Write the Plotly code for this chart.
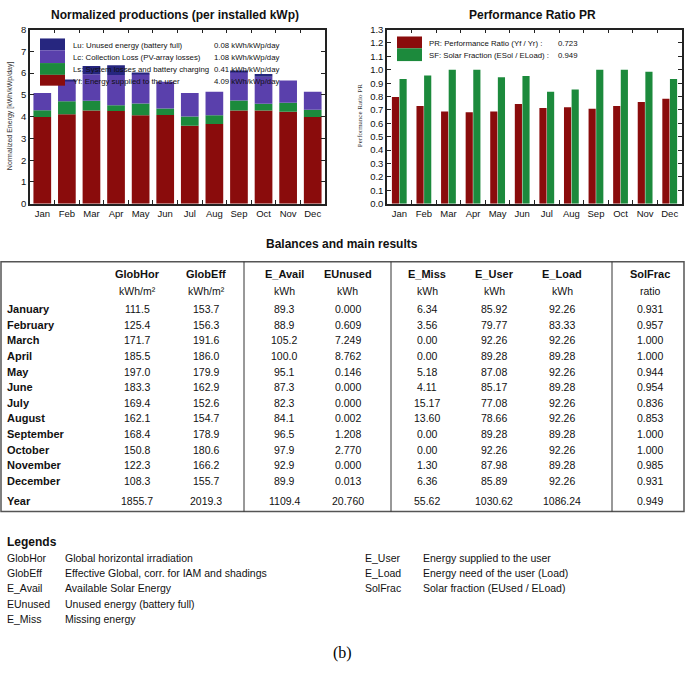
import numpy as np
import plotly.graph_objects as go

W, H = 685, 674

months = ["Jan", "Feb", "Mar", "Apr", "May", "Jun", "Jul", "Aug", "Sep", "Oct", "Nov", "Dec"]

# Normalized productions (kWh/kWp/day)
yf = [3.99, 4.11, 4.28, 4.26, 4.07, 4.08, 3.58, 3.66, 4.28, 4.28, 4.23, 3.99]
ls = [0.30, 0.60, 0.45, 0.27, 0.54, 0.29, 0.43, 0.41, 0.46, 0.31, 0.41, 0.33]
lc = [0.80, 0.94, 1.22, 1.38, 1.36, 1.23, 1.08, 1.08, 1.31, 1.24, 1.02, 0.83]
lu = [0.00, 0.03, 0.38, 0.45, 0.01, 0.00, 0.00, 0.00, 0.06, 0.13, 0.00, 0.00]

# Performance ratio / solar fraction
pr = [0.796, 0.730, 0.688, 0.683, 0.688, 0.744, 0.715, 0.720, 0.710, 0.730, 0.759, 0.783]
sf = [0.931, 0.957, 1.000, 1.000, 0.944, 0.954, 0.836, 0.853, 1.000, 1.000, 0.985, 0.931]

# Table
row_names = ["January", "February", "March", "April", "May", "June", "July", "August",
             "September", "October", "November", "December", "Year"]
col_names = ["GlobHor", "GlobEff", "E_Avail", "EUnused", "E_Miss", "E_User", "E_Load", "SolFrac"]
col_units = ["kWh/m²", "kWh/m²", "kWh", "kWh", "kWh", "kWh", "kWh", "ratio"]
glob_hor = ["111.5", "125.4", "171.7", "185.5", "197.0", "183.3", "169.4", "162.1", "168.4", "150.8", "122.3", "108.3", "1855.7"]
glob_eff = ["153.7", "156.3", "191.6", "186.0", "179.9", "162.9", "152.6", "154.7", "178.9", "180.6", "166.2", "155.7", "2019.3"]
e_avail = ["89.3", "88.9", "105.2", "100.0", "95.1", "87.3", "82.3", "84.1", "96.5", "97.9", "92.9", "89.9", "1109.4"]
e_unused = ["0.000", "0.609", "7.249", "8.762", "0.146", "0.000", "0.000", "0.002", "1.208", "2.770", "0.000", "0.013", "20.760"]
e_miss = ["6.34", "3.56", "0.00", "0.00", "5.18", "4.11", "15.17", "13.60", "0.00", "0.00", "1.30", "6.36", "55.62"]
e_user = ["85.92", "79.77", "92.26", "89.28", "87.08", "85.17", "77.08", "78.66", "89.28", "92.26", "87.98", "85.89", "1030.62"]
e_load = ["92.26", "83.33", "92.26", "89.28", "92.26", "89.28", "92.26", "92.26", "89.28", "92.26", "89.28", "92.26", "1086.24"]
sol_frac = ["0.931", "0.957", "1.000", "1.000", "0.944", "0.954", "0.836", "0.853", "1.000", "1.000", "0.985", "0.931", "0.949"]
columns = [glob_hor, glob_eff, e_avail, e_unused, e_miss, e_user, e_load, sol_frac]

legend_left = [("GlobHor", "Global horizontal irradiation"),
               ("GlobEff", "Effective Global, corr. for IAM and shadings"),
               ("E_Avail", "Available Solar Energy"),
               ("EUnused", "Unused energy (battery full)"),
               ("E_Miss", "Missing energy")]
legend_right = [("E_User", "Energy supplied to the user"),
                ("E_Load", "Energy need of the user (Load)"),
                ("SolFrac", "Solar fraction (EUsed / ELoad)")]

RED = "#8a0c0c"
GREEN = "#1c8a3c"
PURPLE = "#5a40ac"
NAVY = "#26267f"
FONT = "Liberation Sans, Arial, sans-serif"

def px(x):
    return x / W

def py(y):
    return 1 - y / H

fig = go.Figure()

# Left stacked bars
stack = [(yf, RED, "Yf"), (ls, GREEN, "Ls"), (lc, PURPLE, "Lc"), (lu, NAVY, "Lu")]
base = np.zeros(len(months))
for vals, col, name in stack:
    v = np.array(vals)
    fig.add_trace(go.Bar(x=months, y=v, base=base.copy(), marker=dict(color=col, line_width=0),
                         width=0.72, offset=-0.36, name=name, showlegend=False,
                         xaxis="x", yaxis="y"))
    base = base + v

# Right grouped bars
fig.add_trace(go.Bar(x=months, y=pr, marker=dict(color=RED, line_width=0), name="PR",
                     showlegend=False, xaxis="x2", yaxis="y2"))
fig.add_trace(go.Bar(x=months, y=sf, marker=dict(color=GREEN, line_width=0), name="SF",
                     showlegend=False, xaxis="x2", yaxis="y2"))

ydom = [py(201), py(24)]
axis_common = dict(showline=True, linecolor="#222", linewidth=1.5, mirror="ticks",
                   ticks="inside", ticklen=4, tickcolor="#222", showgrid=False,
                   tickfont=dict(family=FONT, size=9.5, color="#111"), zeroline=False)
fig.update_layout(
    width=W, height=H, margin=dict(l=0, r=0, t=0, b=0),
    paper_bgcolor="white", plot_bgcolor="white",
    barmode="group", bargap=0.38, bargroupgap=0.06,
    xaxis=dict(domain=[px(30), px(325)], anchor="y", tickson="boundaries", tickangle=0, **axis_common),
    yaxis=dict(domain=ydom, anchor="x", range=[0, 8], dtick=1, **axis_common),
    xaxis2=dict(domain=[px(387), px(682)], anchor="y2", tickson="boundaries", tickangle=0, **axis_common),
    yaxis2=dict(domain=ydom, anchor="x2", range=[0, 1.3], dtick=0.1, tickformat=".1f", **axis_common),
)

ann = []
shapes = []

def text(x, y, s, size=11, bold=False, xanchor="left", family=FONT, color="#111", angle=0):
    ann.append(dict(x=px(x), y=py(y), xref="paper", yref="paper", text=f"<b>{s}</b>" if bold else s,
                    showarrow=False, xanchor=xanchor, yanchor="middle", textangle=angle,
                    font=dict(family=family, size=size, color=color)))

# Titles
text(175, 9, "Normalized productions (per installed kWp)", size=12, bold=True, xanchor="center")
text(532, 9, "Performance Ratio PR", size=12, bold=True, xanchor="center")
text(10, 112, "Normalized Energy [kWh/kWp/day]", size=7, xanchor="center", angle=-90, color="#333")
text(360, 112, "Performance Ratio PR", size=7, xanchor="center", angle=-90,
     family="Liberation Serif, serif", color="#333")

# Left chart legend
left_leg = [(NAVY, "Lu: Unused energy (battery full)", "0.08 kWh/kWp/day"),
            (PURPLE, "Lc: Collection Loss (PV-array losses)", "1.08 kWh/kWp/day"),
            (GREEN, "Ls: System losses and battery charging", "0.41 kWh/kWp/day"),
            (RED, "Yf: Energy supplied to the user", "4.09 kWh/kWp/day")]
edges = [33, 45, 58, 70, 81]
for i, (c, lab, val) in enumerate(left_leg):
    shapes.append(dict(type="rect", xref="paper", yref="paper", x0=px(40), x1=px(65),
                       y0=py(edges[i + 1]), y1=py(edges[i]), fillcolor=c, line_width=0))
    yc = (edges[i] + edges[i + 1]) / 2 + 1
    text(71, yc, lab, size=7.8)
    text(212, yc, val, size=7.8)

# Right chart legend
right_leg = [(RED, "PR: Performance Ratio (Yf / Yr) :", "0.723"),
             (GREEN, "SF: Solar Fraction (ESol / ELoad) :", "0.949")]
edges2 = [31, 43, 56]
for i, (c, lab, val) in enumerate(right_leg):
    shapes.append(dict(type="rect", xref="paper", yref="paper", x0=px(397), x1=px(422),
                       y0=py(edges2[i + 1]), y1=py(edges2[i]), fillcolor=c, line_width=0))
    yc = (edges2[i] + edges2[i + 1]) / 2 + 1
    text(427, yc, lab, size=7.8)
    text(556, yc, val, size=7.8)

# Table
text(342, 242, "Balances and main results", size=12, bold=True, xanchor="center")
shapes.append(dict(type="rect", xref="paper", yref="paper", x0=px(1), x1=px(684),
                   y0=py(514), y1=py(260), line=dict(color="#555", width=1.5)))
for xv in [244, 391, 612]:
    shapes.append(dict(type="line", xref="paper", yref="paper", x0=px(xv), x1=px(xv),
                       y0=py(514), y1=py(260), line=dict(color="#333", width=1)))

col_x = [137, 206, 284, 348, 427, 494, 562, 650]
row_y = [308 + i * 15.9 for i in range(12)] + [503]
for j, (cx, nm, un) in enumerate(zip(col_x, col_names, col_units)):
    text(cx, 272, nm, size=11, bold=True, xanchor="center")
    text(cx, 290, un, size=10.5, xanchor="center")
    for i, v in enumerate(columns[j]):
        text(cx, row_y[i], v, size=10.5, xanchor="center")
for i, r in enumerate(row_names):
    text(5, row_y[i], r, size=11, bold=True)

# Legends
text(5, 545, "Legends", size=12, bold=True)
for i, (k, d) in enumerate(legend_left):
    yy = 561 + i * 15.5
    text(5, yy, k, size=10.5)
    text(63, yy, d, size=10.5)
for i, (k, d) in enumerate(legend_right):
    yy = 561 + i * 15.5
    text(363, yy, k, size=10.5)
    text(421, yy, d, size=10.5)

text(342, 658, "(b)", size=16, xanchor="center", family="Liberation Serif, serif", color="#000")

fig.update_layout(annotations=ann, shapes=shapes)
fig.write_html("out.html", config={"displayModeBar": False},
               post_script="document.body.style.margin='0';document.body.style.overflow='hidden';")
